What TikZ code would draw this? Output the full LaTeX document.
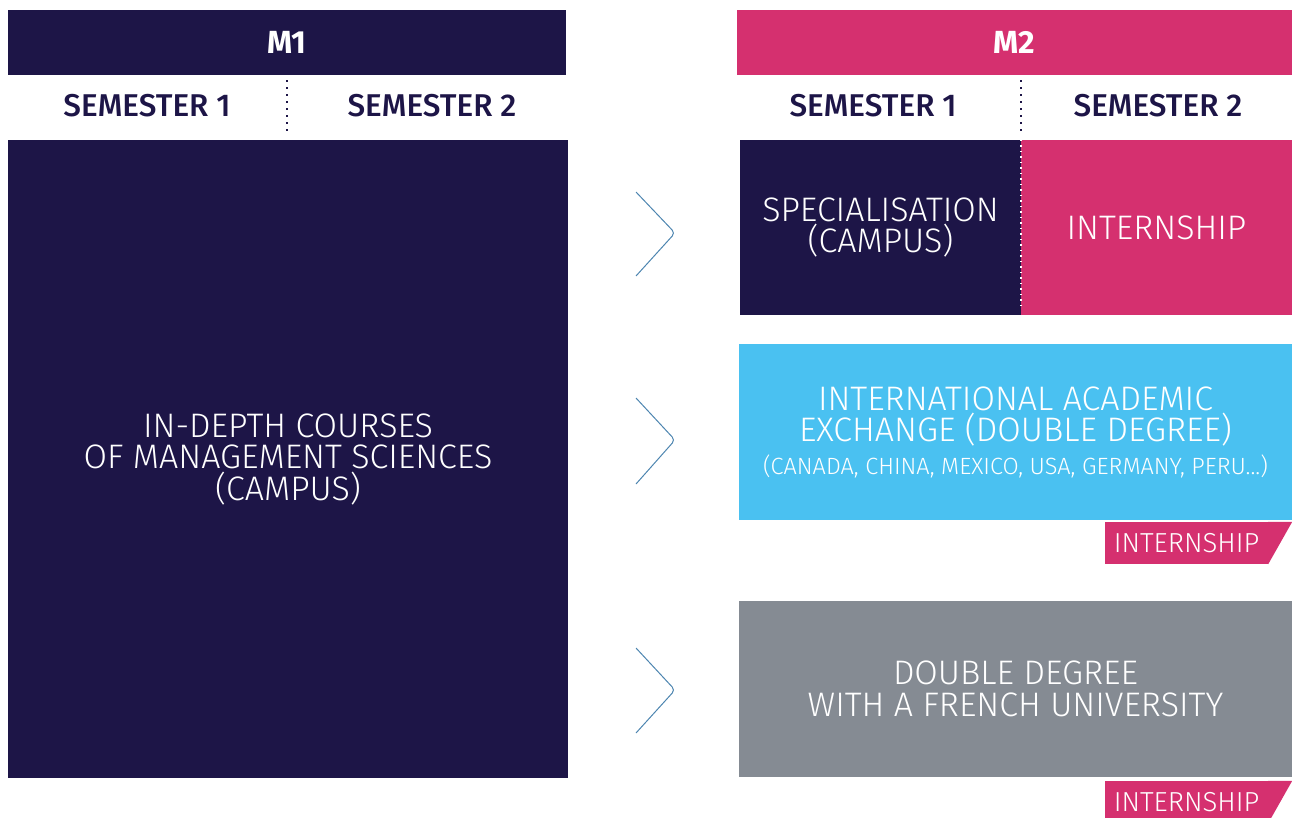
\documentclass[tikz,border=0pt]{standalone}
\usepackage{fontspec}
\setmainfont{Fira Sans}
\newfontfamily\lightfont{Fira Sans Light}
\newfontfamily\medfont{Fira Sans Medium}
\usetikzlibrary{positioning}
\usepackage{xcolor}

\definecolor{navy}{HTML}{1D1547}
\definecolor{rose}{HTML}{D5306F}
\definecolor{sky}{HTML}{4AC1F1}
\definecolor{slate}{HTML}{858B93}
\definecolor{steel}{HTML}{4D85B0}

\tikzset{
  block/.style={rectangle, inner sep=0pt, text=white, align=center,
    font=\lightfont\fontsize{34}{31.5}\selectfont},
  header/.style={rectangle, inner sep=0pt, text=white,
    minimum height=65pt, font=\bfseries\fontsize{32}{33}\selectfont},
  semlabel/.style={text=navy, inner sep=0pt, font=\medfont\fontsize{31.5}{32}\selectfont},
  tagbox/.style={rectangle, inner sep=0pt, fill=rose, text=white,
    minimum width=163pt, minimum height=42pt, font=\lightfont\fontsize{27.5}{28}\selectfont},
  chevron/.style={steel, line width=1pt, rounded corners=4pt},
  divider/.style={line width=2pt, dash pattern=on 2pt off 5pt},
}

\begin{document}
\begin{tikzpicture}[x=1pt, y=-1pt]
      \useasboundingbox (0,0) rectangle (1292,817);

      % M1 column
      \node[header, fill=navy, minimum width=558pt] (hdrA) at (287,42.5) {M1};
      \node[semlabel] (semA1) at (147,106) {SEMESTER 1};
      \node[semlabel] (semA2) at (432,106) {SEMESTER 2};
      \draw[divider, navy] (287,80) -- (287,133);
      \node[block, fill=navy, minimum width=560pt, minimum height=638pt] (bodyA) at (288,459)
        {IN-DEPTH COURSES\\OF MANAGEMENT SCIENCES\\(CAMPUS)};

      % chevrons between the columns
      \draw[chevron] (636,192) -- (675,233) -- (636,276);
      \draw[chevron] (636,398) -- (675,440) -- (636,484);
      \draw[chevron] (636,648) -- (675,690) -- (636,733);

      % M2 column
      \node[header, fill=rose, minimum width=555pt] (hdrB) at (1014.5,42.5) {M2};
      \node[semlabel] (semB1) at (873,106) {SEMESTER 1};
      \node[semlabel] (semB2) at (1158,106) {SEMESTER 2};
      \draw[divider, navy] (1021,80) -- (1021,133);

      % option 1: specialisation + internship
      \node[block, fill=navy, minimum width=281pt, minimum height=175pt] (specB) at (880.5,227.5)
        {SPECIALISATION\\(CAMPUS)};
      \node[block, fill=rose, minimum width=271pt, minimum height=175pt] (internB) at (1156.5,227.5)
        {INTERNSHIP};
      \draw[white, line width=1.5pt, dash pattern=on 1.5pt off 4pt] (specB.north east) -- ([yshift=10pt]specB.south east);

      % option 2: exchange
      \node[block, fill=sky, minimum width=553pt, minimum height=176pt] (exchB) at (1015.5,432)
        {INTERNATIONAL ACADEMIC\\EXCHANGE (DOUBLE DEGREE)\\[1pt]
         {\fontsize{23.5}{24}\selectfont (CANADA, CHINA, MEXICO, USA, GERMANY, PERU...)}};
      \node[tagbox] (tagA) at (1186.5,543) {INTERNSHIP};
      \fill[rose] (tagA.north east) -- ++(24,0) -- (tagA.south east) -- cycle;

      % option 3: double degree
      \node[block, fill=slate, minimum width=553pt, minimum height=176pt] (dualB) at (1015.5,689)
        {DOUBLE DEGREE\\WITH A FRENCH UNIVERSITY};
      \node[tagbox] (tagB) at (1186.5,802) {INTERNSHIP};
      \fill[rose] (tagB.north east) -- ++(24,0) -- (tagB.south east) -- cycle;
\end{tikzpicture}
\end{document}
